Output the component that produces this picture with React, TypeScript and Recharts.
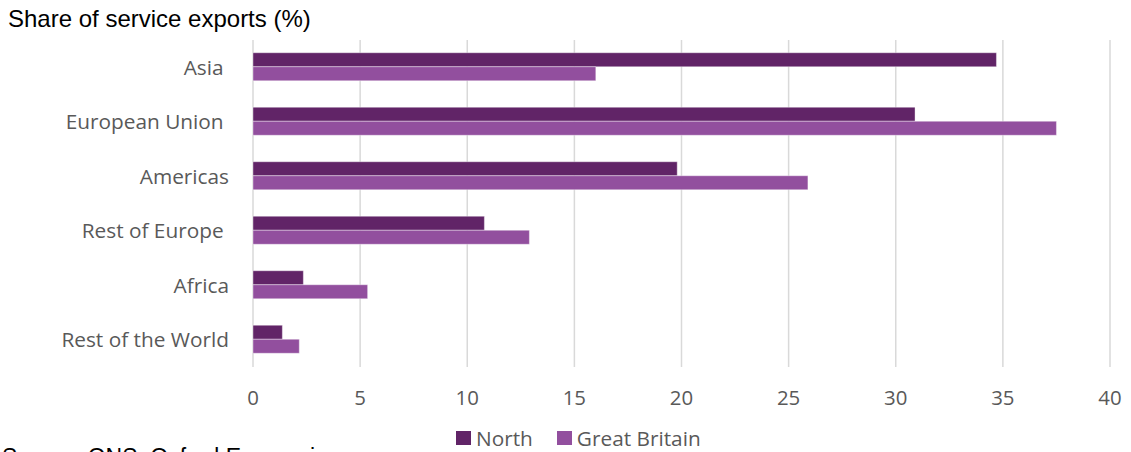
import React from "react";
import { BarChart, Bar, XAxis, YAxis, CartesianGrid, Legend } from "recharts";

const categories = ["Asia ", "European Union ", "Americas", "Rest of Europe ", "Africa", "Rest of the World"];
const northValues = [34.7, 30.9, 19.8, 10.8, 2.35, 1.37];
const gbValues = [16.0, 37.5, 25.9, 12.9, 5.35, 2.16];
const xTicks = [0, 5, 10, 15, 20, 25, 30, 35, 40];
const seriesNames = ["North", "Great Britain"];
const seriesColors = ["#612467", "#924F9E"];

const data = categories.map((name, i) => ({ name, north: northValues[i], gb: gbValues[i] }));

const LABEL_FONT = "'Open Sans', sans-serif";
const TITLE_FONT = "'Liberation Sans', Arial, sans-serif";

const CategoryTick = (props: any) => {
  const { x, y, payload } = props;
  return (
    <text
      x={x}
      y={y}
      dy="0.355em"
      textAnchor="end"
      fill="#595959"
      fontSize={20.8}
      fontFamily={LABEL_FONT}
      xmlSpace="preserve"
      style={{ whiteSpace: "pre" }}
    >
      {payload.value}
    </text>
  );
};

const LegendContent = () => (
  <div style={{ display: "flex", alignItems: "center", fontFamily: LABEL_FONT, fontSize: 20.8, color: "#595959", lineHeight: "24px", whiteSpace: "nowrap" }}>
    {seriesNames.map((n, i) => (
      <div key={n} style={{ display: "flex", alignItems: "center", marginRight: i === 0 ? 24 : 0 }}>
        <span style={{ display: "inline-block", width: 15, height: 14, background: seriesColors[i], marginRight: 5 }} />
        <span>{n}</span>
      </div>
    ))}
  </div>
);

export default function App() {
  return (
    <div style={{ position: "absolute", left: 0, top: 0, width: 1131, height: 452, overflow: "hidden", background: "#fff" }}>
      <BarChart
        width={1131}
        height={452}
        data={data}
        layout="vertical"
        margin={{ top: 40, right: 21, bottom: 55, left: 0 }}
        barCategoryGap="23.4%"
        barGap={0}
      >
        <CartesianGrid horizontal={false} stroke="#d9d9d9" strokeWidth={1.5} />
        <XAxis
          type="number"
          domain={[0, 40]}
          ticks={xTicks}
          axisLine={false}
          tickLine={false}
          tickMargin={18}
          height={30}
          tick={{ fill: "#595959", fontSize: 20.4, fontFamily: LABEL_FONT }}
          interval={0}
        />
        <YAxis
          type="category"
          dataKey="name"
          width={253}
          axisLine={false}
          tickLine={false}
          tickMargin={18}
          tick={<CategoryTick />}
          interval={0}
        />
        <Legend
          layout="horizontal"
          verticalAlign="middle"
          align="center"
          content={<LegendContent />}
          wrapperStyle={{ position: "absolute", left: 456, top: 426, width: "auto" }}
        />
        <Bar dataKey="north" name={seriesNames[0]} fill={seriesColors[0]} stroke="#ffffff" strokeOpacity={0.5} strokeWidth={0.75} isAnimationActive={false} />
        <Bar dataKey="gb" name={seriesNames[1]} fill={seriesColors[1]} stroke="#ffffff" strokeOpacity={0.5} strokeWidth={0.75} isAnimationActive={false} />
      </BarChart>
      <svg width={1131} height={452} style={{ position: "absolute", left: 0, top: 0, pointerEvents: "none" }}>
        <text x={8} y={27} fontFamily={TITLE_FONT} fontSize={24} fill="#000">Share of service exports (%)</text>
        <text x={2} y={465} fontFamily={TITLE_FONT} fontSize={23} fill="#000">Source: ONS, Oxford Economics</text>
      </svg>
    </div>
  );
}
